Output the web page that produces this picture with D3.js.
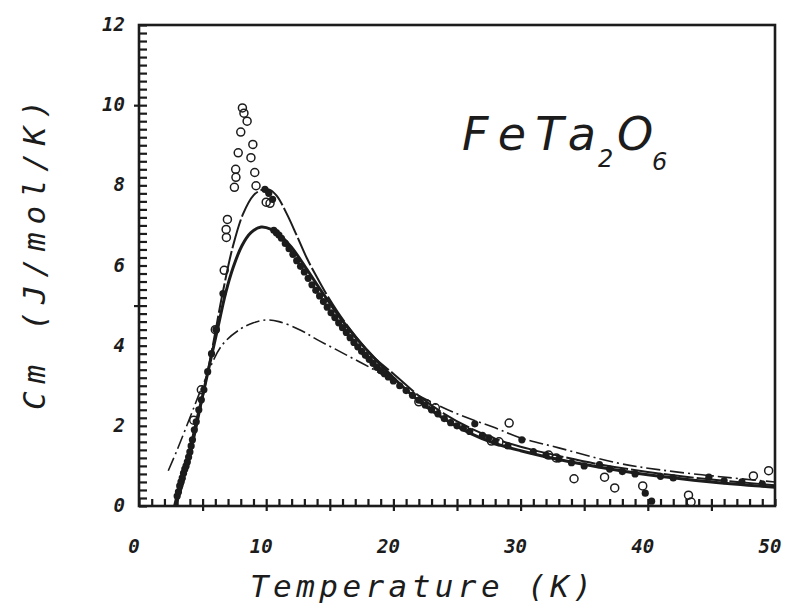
<!DOCTYPE html>
<html><head><meta charset="utf-8">
<script src="https://cdn.jsdelivr.net/npm/d3@7/dist/d3.min.js"></script>
<style>body{margin:0;background:#fff}svg{display:block}</style>
</head><body>
<svg id="chart" width="787" height="609"></svg>
<script>
// ---------- data ----------
const xTickValues = [0, 10, 20, 30, 40, 50];
const yTickValues = [0, 2, 4, 6, 8, 10, 12];
const xTitle = "Temperature (K)";
const yTitle = "Cm (J/mol/K)";

// thick solid fit (lower)
const fitLowerT = [2.8,3.1,3.5,3.9,4.4,5.0,5.6,6.2,6.8,7.4,8.1,8.8,9.6,10.4,11.2,12,13,14,15,16,17,18,19,20,22,24,26,28,30,33,36,40,45,50];
const fitLowerV = [0,0.38,0.8,1.2,1.95,2.75,3.6,4.45,5.3,5.95,6.5,6.82,6.96,6.9,6.72,6.45,6.0,5.52,5.06,4.62,4.22,3.86,3.52,3.2,2.62,2.17,1.82,1.56,1.38,1.16,0.98,0.78,0.6,0.47];
// thin solid fit (upper)
const fitUpperT = [2.9,3.5,4.2,5,5.8,6.6,7.4,8.2,9,9.6,10.2,10.8,11.6,12.4,13.2,14,14.8,15.6,16.5,17.5,18.5,20,22,24,26,28,30,33,36,40,45,50];
const fitUpperV = [0,0.6,1.5,2.7,4.0,5.35,6.5,7.3,7.75,7.88,7.9,7.75,7.3,6.75,6.18,5.7,5.25,4.85,4.45,4.05,3.7,3.3,2.75,2.3,1.95,1.68,1.48,1.25,1.05,0.85,0.66,0.52];
// dash-dot fit
const fitDashT = [2.3,3,4,5,6.5,8,9,10,11,12.75,14,15.4,17,18.6,20,22,25,28,30,33,37.5,41,45.4,50];
const fitDashV = [0.88,1.4,2.2,3.0,4.0,4.42,4.57,4.64,4.6,4.38,4.15,3.92,3.65,3.38,3.1,2.75,2.3,1.95,1.7,1.45,1.08,0.9,0.74,0.6];

// open circles
const openT = [8.13,8.25,8.5,8.0,8.95,7.8,8.8,9.1,7.6,7.62,7.5,9.2,10.0,10.3,6.95,6.85,6.87,6.7,6.0,4.9,4.3,22,22.6,23.3,27.7,28.3,29.1,32.2,32.8,34.2,36.6,37.4,39.6,43.2,43.4,48.3,49.5];
const openV = [9.93,9.8,9.6,9.33,9.02,8.81,8.69,8.32,8.4,8.2,7.95,7.99,7.58,7.55,7.15,6.9,6.7,5.88,4.4,2.9,2.14,2.6,2.55,2.45,1.62,1.6,2.07,1.27,1.2,0.68,0.72,0.45,0.5,0.27,0.1,0.75,0.88];

// filled points
const dotT = [3.0,3.1,3.2,3.3,3.4,3.5,3.6,3.7,3.8,3.9,4.0,4.1,4.2,4.35,4.5,4.7,4.9,5.1,5.4,5.7,6.05,6.6,
  9.9,10.2,10.5,10.6,10.8,11.0,11.2,11.5,11.8,12.1,12.4,12.7,13.0,13.3,13.6,13.9,14.2,14.5,14.8,15.1,15.4,15.7,16.0,16.3,16.6,16.9,17.2,17.5,17.8,18.1,18.4,18.7,19.0,19.3,19.6,20.0,
  20.5,21,21.5,22,22.5,23,23.5,24,24.5,25,25.5,26,26.4,27,27.5,28,29,30.1,31,32,33,34,35,36.2,37,38,39,39.8,40.3,41,42,44.8,46,47.4,49];
const dotV = [0.25,0.35,0.5,0.6,0.7,0.82,0.92,1.0,1.1,1.22,1.35,1.5,1.65,1.9,2.1,2.4,2.65,2.9,3.35,3.8,4.4,5.3,
  7.9,7.8,7.65,6.88,6.82,6.76,6.68,6.55,6.42,6.28,6.12,5.98,5.84,5.68,5.52,5.38,5.24,5.1,4.96,4.82,4.7,4.57,4.45,4.33,4.2,4.08,3.97,3.86,3.76,3.66,3.56,3.46,3.38,3.3,3.22,3.12,
  3.0,2.88,2.76,2.64,2.52,2.4,2.3,2.18,2.08,2.0,1.94,1.86,2.05,1.76,1.7,1.6,1.5,1.65,1.36,1.27,1.17,1.08,1.0,1.03,0.92,0.86,0.8,0.32,0.12,0.74,0.7,0.72,0.63,0.6,0.55];

// ---------- layout ----------
const W = 787, H = 609;
const L = 139, R = 775, T = 25, B = 506;
const ink = "#1c1c1c";
const monoFont = "'DejaVu Sans Mono', monospace";

const svg = d3.select("#chart");
svg.append("rect").attr("width", W).attr("height", H).attr("fill", "#fff");
const g = svg.append("g");

const x = d3.scaleLinear().domain([0, 50]).range([L, R]);
const y = d3.scaleLinear().domain([0, 12]).range([B, T]);

// frame
g.append("rect").attr("x", L).attr("y", T).attr("width", R - L).attr("height", B - T)
  .attr("fill", "none").attr("stroke", ink).attr("stroke-width", 2.6);

// minor / major ticks through d3 axes
const yMinor = d3.range(0, 61).map(i => i * 0.2);
const yMajor = [5, 10];
const xMinor = d3.range(0, 51);
const xMajor = [5, 10, 15, 20, 25, 30, 35, 40, 45];

function styleAxis(sel) {
  sel.select(".domain").remove();
  sel.selectAll(".tick line").attr("stroke", ink).attr("stroke-width", 2.2);
}
g.append("g").attr("transform", `translate(${L},0)`)
  .call(d3.axisRight(y).tickValues(yMinor).tickSize(8).tickFormat(""))
  .call(styleAxis);
g.append("g").attr("transform", `translate(${L},0)`)
  .call(d3.axisLeft(y).tickValues(yMajor).tickSize(5).tickFormat(""))
  .call(styleAxis);
g.append("g").attr("transform", `translate(0,${B})`)
  .call(d3.axisTop(x).tickValues(xMinor).tickSize(7).tickFormat(""))
  .call(styleAxis);
g.append("g").attr("transform", `translate(0,${B})`)
  .call(d3.axisBottom(x).tickValues(xMajor).tickSize(5).tickFormat(""))
  .call(styleAxis);

// tick labels
g.append("g").selectAll("text").data(yTickValues).join("text")
  .attr("x", L - 14).attr("y", d => y(d) + 6)
  .attr("text-anchor", "end")
  .attr("font-family", monoFont).attr("font-size", 19).attr("font-weight", "bold")
  .attr("font-style", "italic").attr("fill", ink)
  .text(d => d);
g.append("g").selectAll("text").data(xTickValues).join("text")
  .attr("x", d => x(d) - 5).attr("y", B + 47)
  .attr("text-anchor", "middle")
  .attr("font-family", monoFont).attr("font-size", 19).attr("font-weight", "bold")
  .attr("font-style", "italic").attr("fill", ink)
  .text(d => d);

// axis titles
g.append("text").attr("x", 421).attr("y", B + 91)
  .attr("text-anchor", "middle")
  .attr("font-family", monoFont).attr("font-size", 31).attr("font-style", "italic")
  .attr("fill", ink).attr("textLength", 342).attr("lengthAdjust", "spacing")
  .text(xTitle);
g.append("text").attr("transform", `translate(45,255) rotate(-90)`)
  .attr("text-anchor", "middle")
  .attr("font-family", monoFont).attr("font-size", 31).attr("font-style", "italic")
  .attr("fill", ink).attr("textLength", 310).attr("lengthAdjust", "spacing")
  .text(yTitle);

// formula label
const f = g.append("text").attr("font-family", "'DejaVu Sans', sans-serif")
  .attr("font-style", "italic").attr("fill", ink);
f.append("tspan").attr("x", 462).attr("y", 150).attr("font-size", 46)
  .attr("textLength", 134).attr("lengthAdjust", "spacing").text("FeTa");
f.append("tspan").attr("x", 598).attr("y", 167).attr("font-size", 24).text("2");
f.append("tspan").attr("x", 617).attr("y", 150).attr("font-size", 46).text("O");
f.append("tspan").attr("x", 652).attr("y", 170).attr("font-size", 24).text("6");

// curves
const line = d3.line().x(d => x(d[0])).y(d => y(d[1])).curve(d3.curveCatmullRom.alpha(0.5));
const zip = (a, b) => a.map((t, i) => [t, b[i]]);
const plot = g.append("g");

plot.append("path").datum(zip(fitDashT, fitDashV)).attr("d", line)
  .attr("fill", "none").attr("stroke", ink).attr("stroke-width", 1.6)
  .attr("stroke-dasharray", "14,4,2,4");
plot.append("path").datum(zip(fitUpperT, fitUpperV)).attr("d", line)
  .attr("fill", "none").attr("stroke", ink).attr("stroke-width", 2)
  .attr("stroke-dasharray", "30,3");
plot.append("path").datum(zip(fitLowerT, fitLowerV)).attr("d", line)
  .attr("fill", "none").attr("stroke", ink).attr("stroke-width", 3);

// points
plot.append("g").selectAll("circle").data(zip(dotT, dotV)).join("circle")
  .attr("cx", d => x(d[0])).attr("cy", d => y(d[1])).attr("r", 3.6)
  .attr("fill", ink);
plot.append("g").selectAll("circle").data(zip(openT, openV)).join("circle")
  .attr("cx", d => x(d[0])).attr("cy", d => y(d[1])).attr("r", 4)
  .attr("fill", "none").attr("stroke", ink).attr("stroke-width", 1.5);
</script>
</body></html>
